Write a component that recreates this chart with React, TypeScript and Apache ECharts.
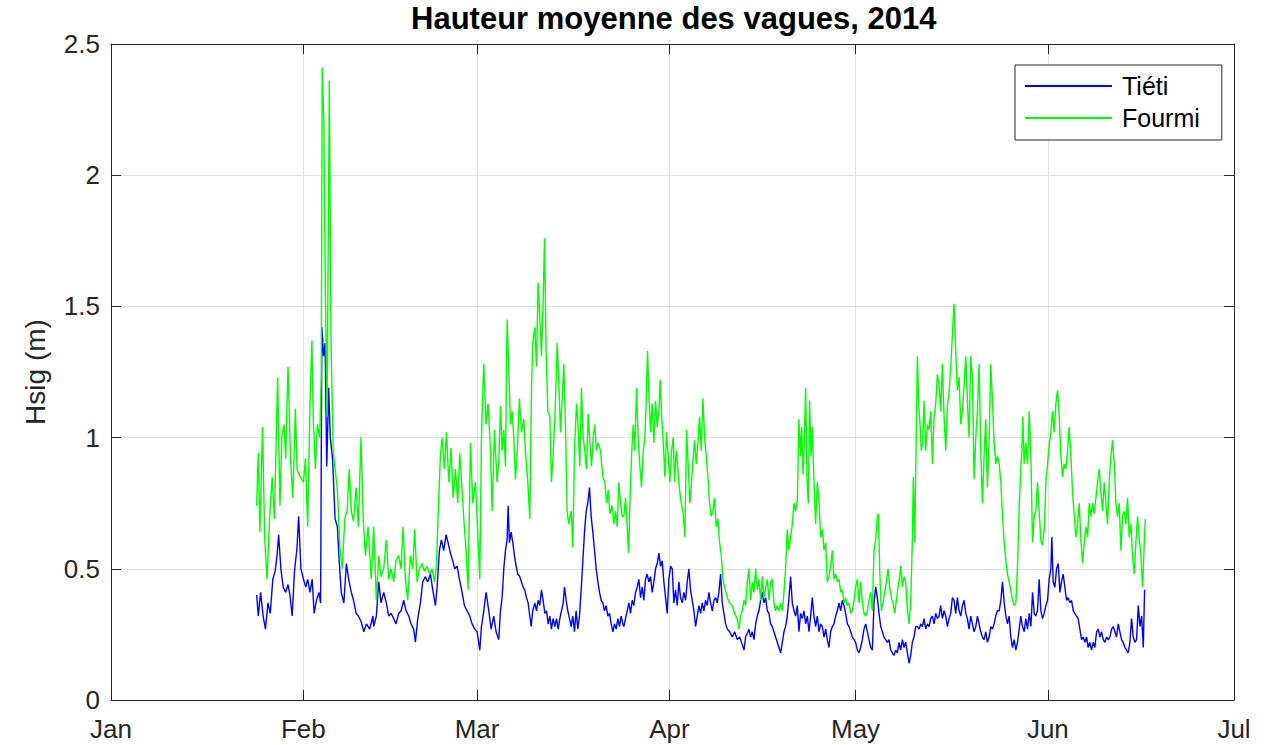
import React, { useEffect, useRef } from "react";
import * as echarts from "echarts";

const TITLE = "Hauteur moyenne des vagues, 2014";
const Y_NAME = "Hsig (m)";
const MONTH_LABELS = ["Jan", "Feb", "Mar", "Apr", "May", "Jun", "Jul"];
const YEAR = 2014;
const Y_MIN = 0;
const Y_MAX = 2.5;
const Y_STEP = 0.5;
const SERIES_NAMES = ["Tiéti", "Fourmi"];

// [days since 1 Jan 2014 00:00, significant wave height in m]
const tietiData: [number, number][] = [
  [23.48,0.40],[23.74,0.32],[24.11,0.41],[24.52,0.32],[24.89,0.27],[25.30,0.37],[25.67,0.33],[26.08,0.46],[26.45,0.49],[26.76,0.55],
  [27.02,0.63],[27.38,0.50],[27.75,0.43],[28.16,0.41],[28.53,0.44],[28.84,0.40],[29.20,0.32],[29.57,0.49],[29.98,0.58],[30.24,0.70],
  [30.61,0.50],[31.03,0.46],[31.39,0.43],[31.70,0.46],[32.07,0.41],[32.43,0.46],[32.74,0.33],[33.11,0.38],[33.52,0.41],[33.78,0.37],
  [33.99,1.42],[34.25,1.31],[34.51,1.36],[34.77,0.89],[35.08,1.19],[35.34,1.00],[35.71,0.92],[36.12,0.69],[36.49,0.66],[36.75,0.54],
  [37.11,0.41],[37.53,0.37],[37.94,0.52],[38.31,0.46],[38.73,0.41],[39.09,0.38],[39.51,0.33],[39.87,0.32],[40.29,0.30],[40.75,0.26],
  [41.17,0.29],[41.69,0.27],[42.21,0.32],
  [42.34,0.28],[42.77,0.32],[43.15,0.45],[43.52,0.37],[43.95,0.41],[44.38,0.37],[44.76,0.32],[45.14,0.33],[45.57,0.31],[45.94,0.29],
  [46.37,0.33],[46.75,0.34],[47.18,0.38],[47.56,0.34],[47.99,0.32],[48.36,0.29],[48.79,0.27],[49.06,0.22],[49.44,0.31],[49.87,0.37],
  [50.24,0.45],[50.67,0.47],[51.05,0.45],[51.48,0.48],[51.86,0.42],[52.29,0.36],[52.56,0.43],[52.93,0.57],[53.25,0.61],[53.63,0.57],
  [54.01,0.63],[54.33,0.60],[54.71,0.56],[55.08,0.53],[55.40,0.50],[55.78,0.51],[56.16,0.46],[56.59,0.41],[56.96,0.36],[57.39,0.34],
  [57.82,0.32],[58.20,0.29],[58.63,0.27],[59.01,0.26],[59.44,0.19],[59.71,0.28],[60.08,0.34],[60.46,0.41],[60.89,0.34],[61.26,0.27],
  [61.69,0.32],[62.07,0.26],
  [62.50,0.23],[62.77,0.34],[63.04,0.39],[63.31,0.50],[63.58,0.57],[63.84,0.61],[64.01,0.74],[64.22,0.60],[64.49,0.64],[64.76,0.60],
  [65.03,0.55],[65.30,0.51],[65.56,0.48],[65.89,0.47],[66.16,0.45],[66.42,0.43],[66.69,0.42],[66.96,0.39],[67.23,0.37],[67.50,0.32],
  [67.72,0.28],[67.98,0.34],[68.31,0.37],[68.58,0.34],[68.84,0.38],[69.11,0.36],[69.38,0.42],[69.65,0.38],[69.92,0.33],[70.19,0.34],
  [70.46,0.29],[70.73,0.32],[70.99,0.27],[71.26,0.31],[71.53,0.28],[71.80,0.31],[72.07,0.27],[72.34,0.31],[72.61,0.34],[72.88,0.37],
  [73.09,0.43],[73.36,0.38],[73.63,0.34],[73.90,0.31],[74.17,0.28],[74.44,0.32],[74.70,0.26],[74.97,0.34],[75.24,0.27],[75.51,0.32],
  [75.78,0.42],[76.05,0.53],[76.32,0.64],[76.59,0.72],[76.85,0.75],[77.12,0.81],[77.39,0.70],[77.66,0.64],[77.93,0.57],[78.20,0.50],
  [78.47,0.45],[78.74,0.41],[79.01,0.38],[79.27,0.37],[79.54,0.34],[79.81,0.36],[80.08,0.32],[80.35,0.33],[80.62,0.29],[80.89,0.26],
  [81.16,0.29],[81.42,0.27],[81.69,0.31],[81.96,0.28],[82.23,0.32],[82.50,0.29],
  [82.66,0.28],[82.93,0.31],[83.20,0.34],[83.47,0.37],[83.74,0.33],[84.00,0.38],[84.27,0.36],[84.54,0.41],[84.81,0.43],[85.08,0.46],
  [85.35,0.39],[85.62,0.43],[85.89,0.38],[86.15,0.46],[86.42,0.48],[86.69,0.45],[86.96,0.47],[87.23,0.41],[87.50,0.45],[87.77,0.50],
  [88.04,0.52],[88.31,0.56],[88.57,0.51],[88.84,0.53],[89.11,0.45],[89.38,0.39],[89.65,0.33],[89.92,0.46],[90.19,0.51],[90.46,0.50],
  [90.72,0.37],[90.99,0.42],[91.26,0.36],[91.53,0.45],[91.80,0.39],[92.07,0.37],[92.34,0.41],[92.61,0.38],[92.87,0.45],[93.14,0.50],
  [93.41,0.42],[93.68,0.38],[93.95,0.34],[94.22,0.28],[94.49,0.32],[94.76,0.36],[95.03,0.33],[95.29,0.37],[95.56,0.34],[95.83,0.38],
  [96.10,0.36],[96.37,0.41],[96.64,0.37],[96.91,0.34],[97.18,0.38],[97.45,0.39],[97.71,0.37],[97.98,0.41],[98.25,0.48],[98.52,0.37],
  [98.79,0.33],[99.06,0.29],[99.33,0.27],[99.70,0.26],[100.13,0.24],[100.51,0.26],[100.94,0.23],[101.32,0.24],[101.75,0.21],[102.02,0.19],
  [102.28,0.24],[102.66,0.26],
  [102.82,0.27],[103.09,0.24],[103.36,0.26],[103.63,0.23],[103.90,0.29],[104.16,0.32],[104.43,0.34],[104.70,0.38],[104.97,0.41],[105.24,0.37],
  [105.51,0.39],[105.78,0.34],[106.05,0.33],[106.31,0.29],[106.58,0.28],[106.85,0.26],[107.12,0.24],[107.39,0.22],[107.66,0.20],[107.93,0.18],
  [108.20,0.22],[108.47,0.26],[108.73,0.28],[109.00,0.32],[109.27,0.39],[109.54,0.47],[109.81,0.37],[110.08,0.34],[110.35,0.32],[110.62,0.36],
  [110.88,0.26],[111.15,0.33],[111.42,0.31],[111.69,0.34],[111.96,0.29],[112.23,0.32],[112.50,0.26],[112.77,0.32],[113.03,0.39],[113.30,0.32],
  [113.57,0.28],[113.84,0.32],[114.11,0.26],[114.38,0.29],[114.65,0.28],[114.92,0.24],[115.19,0.27],[115.45,0.23],[115.72,0.20],[115.99,0.26],
  [116.26,0.28],[116.53,0.29],[116.80,0.32],[117.07,0.34],[117.34,0.37],[117.61,0.34],[117.87,0.38],[118.14,0.36],[118.41,0.33],[118.68,0.29],
  [118.95,0.28],[119.22,0.26],[119.49,0.24],[119.76,0.23],[120.02,0.22],[120.29,0.19],[120.56,0.18],[120.83,0.20],[121.10,0.23],[121.37,0.27],
  [121.64,0.29],[121.91,0.26],[122.17,0.23],[122.44,0.20],[122.71,0.19],
  [122.98,0.37],[123.25,0.43],[123.52,0.39],[123.79,0.33],[124.06,0.28],[124.32,0.26],[124.59,0.24],[124.86,0.23],[125.13,0.22],[125.40,0.23],
  [125.67,0.19],[125.94,0.18],[126.21,0.17],[126.47,0.19],[126.74,0.18],[127.01,0.22],[127.28,0.19],[127.55,0.23],[127.82,0.20],[128.09,0.22],
  [128.36,0.18],[128.63,0.14],[128.89,0.17],[129.16,0.22],[129.43,0.24],[129.70,0.28],[129.97,0.28],[130.24,0.27],[130.51,0.29],[130.78,0.28],
  [131.04,0.31],[131.31,0.27],[131.58,0.29],[131.85,0.28],[132.12,0.31],[132.39,0.32],[132.66,0.29],[132.93,0.33],[133.19,0.31],[133.46,0.32],
  [133.73,0.36],[134.00,0.31],[134.27,0.34],[134.54,0.32],[134.81,0.28],[135.08,0.31],[135.35,0.33],[135.61,0.39],[135.88,0.38],[136.15,0.33],
  [136.42,0.39],[136.69,0.34],[136.96,0.32],[137.23,0.36],[137.50,0.38],[137.77,0.33],[138.03,0.31],[138.30,0.27],[138.57,0.32],[138.84,0.29],
  [139.11,0.26],[139.38,0.28],[139.65,0.32],[139.92,0.29],[140.18,0.26],[140.45,0.24],[140.72,0.23],[140.99,0.26],[141.26,0.22],[141.53,0.24],
  [141.80,0.28],[142.07,0.27],[142.34,0.29],[142.60,0.32],[142.87,0.34],
  [143.15,0.34],[143.42,0.38],[143.69,0.45],[143.96,0.37],[144.23,0.32],[144.49,0.29],[144.76,0.32],[145.03,0.24],[145.30,0.20],[145.57,0.23],
  [145.84,0.19],[146.11,0.22],[146.38,0.27],[146.64,0.32],[146.91,0.28],[147.18,0.26],[147.45,0.31],[147.72,0.27],[147.99,0.33],[148.26,0.28],
  [148.53,0.41],[148.80,0.33],[149.06,0.32],[149.33,0.34],[149.60,0.46],[149.87,0.34],[150.14,0.31],[150.41,0.33],[150.68,0.36],[150.95,0.38],
  [151.21,0.46],[151.48,0.50],[151.64,0.62],[151.86,0.45],[152.13,0.43],[152.40,0.50],[152.67,0.52],[152.94,0.41],[153.20,0.45],[153.47,0.48],
  [153.74,0.43],[154.01,0.38],[154.28,0.39],[154.55,0.37],[154.82,0.38],[155.09,0.34],[155.35,0.33],[155.62,0.32],[155.89,0.31],[156.16,0.27],
  [156.43,0.23],[156.70,0.24],[156.97,0.22],[157.24,0.24],[157.50,0.20],[157.77,0.22],[158.04,0.19],[158.31,0.22],[158.58,0.20],[158.85,0.26],
  [159.12,0.27],[159.39,0.24],[159.65,0.26],[159.92,0.23],[160.19,0.22],[160.46,0.24],[160.73,0.23],[161.00,0.24],[161.27,0.27],[161.54,0.28],
  [161.81,0.26],[162.07,0.24],[162.34,0.29],[162.61,0.26],[162.88,0.23],[163.15,0.22],[163.42,0.20],[163.69,0.19],[163.96,0.18],[164.22,0.22],
  [164.49,0.31],[164.76,0.24],[165.03,0.22],[165.30,0.23],[165.57,0.36],[165.84,0.28],[166.11,0.32],[166.38,0.20],[166.59,0.42]
];

const fourmiData: [number, number][] = [
  [23.48,0.74],[23.74,0.94],[24.00,0.64],[24.42,1.04],[24.78,0.61],[25.15,0.46],[25.56,0.69],[25.98,0.85],[26.34,0.69],[26.86,1.23],
  [27.23,0.74],[27.54,1.00],[27.90,1.05],[28.16,0.92],[28.53,1.27],[28.94,0.92],[29.31,0.77],[29.72,1.11],[29.98,0.88],[30.50,0.85],
  [31.03,0.83],[31.34,0.92],[31.70,0.66],[32.07,1.12],[32.38,1.37],[32.59,1.08],[32.95,0.88],[33.26,1.05],[33.63,1.00],[33.89,1.23],
  [34.04,2.41],[34.30,2.21],[34.56,1.54],[34.82,1.08],[35.19,2.36],[35.45,1.39],[35.81,0.95],[36.12,0.88],[36.49,0.80],[36.90,0.58],
  [37.27,0.50],[37.68,0.69],[38.05,0.72],[38.41,0.88],[38.73,0.72],[39.09,0.68],[39.51,0.81],[39.87,0.66],[40.29,1.00],[40.65,0.69],
  [41.01,0.55],[41.43,0.66],[41.95,0.46],
  [42.34,0.66],[42.77,0.38],[43.15,0.55],[43.52,0.47],[43.95,0.50],[44.38,0.61],[44.76,0.46],[45.14,0.50],[45.57,0.45],[45.94,0.53],
  [46.37,0.55],[46.75,0.50],[47.07,0.66],[47.45,0.46],[47.82,0.38],[48.25,0.55],[48.63,0.50],[48.95,0.65],[49.33,0.45],[49.71,0.50],
  [50.14,0.52],[50.51,0.49],[50.94,0.51],[51.37,0.48],[51.75,0.50],[52.12,0.45],[52.45,0.51],[52.72,0.70],[53.09,0.93],[53.36,1.00],
  [53.74,0.88],[54.06,1.02],[54.44,0.83],[54.81,0.96],[55.14,0.77],[55.51,0.88],[55.89,0.75],[56.21,0.94],[56.59,0.80],[56.86,0.69],
  [57.23,0.57],[57.56,0.42],[57.93,0.98],[58.31,0.75],[58.74,0.83],[59.11,0.64],[59.44,0.46],[59.71,1.00],[60.08,1.28],[60.46,1.05],
  [60.78,1.13],[61.16,0.95],[61.43,0.72],[61.80,1.03],[62.23,0.83],
  [62.50,0.91],[62.77,1.12],[63.04,0.95],[63.31,1.03],[63.58,0.89],[63.84,1.45],[64.11,1.27],[64.38,1.05],[64.65,1.10],[64.92,1.00],
  [65.19,0.84],[65.46,0.93],[65.83,1.15],[66.16,1.02],[66.53,1.07],[66.80,0.95],[67.18,0.83],[67.50,0.69],[67.77,1.18],[67.98,1.36],
  [68.31,1.42],[68.58,1.27],[68.84,1.59],[69.11,1.46],[69.38,1.31],[69.65,1.52],[69.87,1.76],[70.13,1.33],[70.40,1.10],[70.73,1.08],
  [70.99,0.83],[71.26,0.93],[71.64,1.14],[71.91,1.36],[72.18,1.21],[72.45,1.02],[72.72,1.15],[72.98,1.28],[73.25,1.04],[73.52,0.72],
  [73.79,0.67],[74.17,0.72],[74.44,0.58],[74.70,0.95],[75.03,1.13],[75.30,1.04],[75.56,0.89],[75.83,1.19],[76.10,1.00],[76.37,0.95],
  [76.64,0.88],[76.91,1.09],[77.18,0.98],[77.45,0.89],[77.72,1.00],[77.98,1.05],[78.25,0.95],[78.52,0.98],[78.90,0.95],[79.27,0.85],
  [79.60,0.83],[79.87,0.75],[80.13,0.80],[80.40,0.71],[80.78,0.74],[81.05,0.67],[81.32,0.72],[81.59,0.66],[81.85,0.83],[82.12,0.75],
  [82.39,0.70],
  [82.66,0.70],[82.93,0.77],[83.20,0.66],[83.41,0.56],[83.63,0.74],[83.90,0.93],[84.17,1.05],[84.43,0.95],[84.70,1.19],[84.97,1.00],
  [85.24,0.89],[85.51,0.81],[85.78,0.95],[86.05,1.00],[86.26,1.14],[86.48,1.33],[86.69,1.17],[86.96,1.02],[87.23,1.13],[87.50,0.98],
  [87.77,1.14],[88.04,1.04],[88.31,1.10],[88.52,1.22],[88.73,1.09],[89.00,0.99],[89.27,0.85],[89.54,1.02],[89.81,0.93],[90.08,0.83],
  [90.35,0.95],[90.62,1.00],[90.83,0.83],[91.10,0.95],[91.37,0.88],[91.64,0.80],[91.91,0.75],[92.23,0.71],[92.50,0.62],[92.77,1.03],
  [93.04,0.89],[93.31,0.75],[93.57,0.83],[93.84,0.93],[94.06,0.99],[94.33,0.90],[94.60,0.98],[94.86,1.08],[95.13,0.95],[95.40,1.15],
  [95.67,1.00],[95.94,0.93],[96.21,0.85],[96.48,0.75],[96.75,0.70],[97.02,0.72],[97.28,0.77],[97.55,0.66],[97.82,0.69],[98.09,0.60],
  [98.36,0.55],[98.63,0.46],[98.90,0.43],[99.33,0.39],[99.70,0.37],[100.13,0.36],[100.51,0.33],[100.94,0.31],[101.21,0.27],[101.48,0.32],
  [101.75,0.34],[102.02,0.38],[102.28,0.36],[102.55,0.45],
  [102.82,0.50],[103.09,0.38],[103.36,0.45],[103.63,0.41],[103.90,0.50],[104.16,0.42],[104.43,0.46],[104.70,0.38],[104.97,0.47],[105.24,0.39],
  [105.51,0.43],[105.78,0.46],[106.05,0.38],[106.31,0.45],[106.58,0.46],[106.85,0.37],[107.12,0.34],[107.39,0.36],[107.66,0.34],[107.93,0.37],
  [108.20,0.34],[108.47,0.41],[108.73,0.50],[109.00,0.65],[109.27,0.57],[109.54,0.62],[109.81,0.67],[110.08,0.75],[110.35,0.72],[110.62,0.76],
  [110.88,1.07],[111.15,0.93],[111.31,1.04],[111.53,0.86],[111.74,0.98],[111.96,1.19],[112.17,0.85],[112.39,0.75],[112.60,1.14],[112.82,0.93],
  [113.03,1.04],[113.30,0.83],[113.57,0.67],[113.84,0.83],[114.11,0.76],[114.38,0.62],[114.65,0.65],[114.92,0.57],[115.19,0.60],[115.45,0.45],
  [115.72,0.47],[115.99,0.51],[116.26,0.57],[116.53,0.46],[116.80,0.48],[117.07,0.45],[117.34,0.46],[117.61,0.41],[117.87,0.42],[118.14,0.37],
  [118.41,0.39],[118.68,0.36],[118.95,0.37],[119.22,0.33],[119.49,0.34],[119.76,0.38],[120.02,0.43],[120.29,0.46],[120.56,0.37],[120.83,0.45],
  [121.10,0.37],[121.37,0.33],[121.64,0.32],[121.91,0.34],[122.17,0.38],[122.44,0.41],[122.71,0.34],
  [122.98,0.57],[123.25,0.61],[123.52,0.70],[123.68,0.71],[123.89,0.50],[124.16,0.34],[124.43,0.37],[124.70,0.41],[124.97,0.45],[125.24,0.50],
  [125.51,0.43],[125.78,0.39],[126.04,0.37],[126.31,0.33],[126.58,0.38],[126.85,0.43],[127.12,0.47],[127.28,0.51],[127.55,0.43],[127.82,0.47],
  [128.09,0.45],[128.36,0.34],[128.63,0.29],[128.89,0.37],[129.16,0.61],[129.32,0.85],[129.54,0.60],[129.75,0.95],[129.97,1.31],[130.18,1.13],
  [130.40,1.05],[130.61,0.95],[130.83,0.98],[131.04,1.14],[131.31,0.95],[131.58,1.05],[131.85,1.03],[132.12,1.10],[132.39,0.90],[132.66,1.08],
  [132.93,1.13],[133.19,1.24],[133.46,1.20],[133.73,1.10],[134.00,1.28],[134.27,1.08],[134.54,0.95],[134.81,1.12],[135.08,1.17],[135.35,1.27],
  [135.61,1.39],[135.88,1.51],[136.15,1.33],[136.42,1.18],[136.69,1.23],[136.96,1.05],[137.23,1.10],[137.50,1.20],[137.77,1.31],[138.03,1.14],
  [138.30,1.00],[138.57,1.31],[138.84,1.23],[139.11,0.84],[139.38,1.00],[139.65,1.10],[139.92,1.28],[140.18,0.95],[140.45,0.75],[140.72,0.93],
  [140.99,1.07],[141.26,0.81],[141.53,0.98],[141.80,1.28],[142.07,1.14],[142.34,0.98],[142.60,0.90],[142.87,0.93],
  [143.15,0.90],[143.42,0.83],[143.69,0.70],[143.96,0.60],[144.23,0.53],[144.49,0.48],[144.76,0.45],[145.03,0.42],[145.30,0.38],[145.57,0.36],
  [145.84,0.37],[146.11,0.51],[146.38,0.74],[146.64,0.88],[146.81,0.95],[146.97,1.08],[147.18,0.90],[147.45,0.98],[147.72,0.90],[147.99,1.10],
  [148.26,0.93],[148.53,0.60],[148.80,0.70],[149.06,0.72],[149.33,0.83],[149.60,0.72],[149.87,0.61],[150.14,0.59],[150.41,0.65],[150.68,0.83],
  [150.95,0.90],[151.21,0.97],[151.48,1.02],[151.75,1.10],[152.02,1.02],[152.29,1.13],[152.56,1.18],[152.83,1.08],[153.10,0.93],[153.37,0.85],
  [153.63,0.90],[153.90,0.88],[154.17,0.95],[154.44,1.04],[154.71,0.93],[154.98,0.79],[155.25,0.70],[155.52,0.62],[155.78,0.67],[156.05,0.75],
  [156.32,0.61],[156.59,0.52],[156.86,0.60],[157.13,0.66],[157.40,0.62],[157.67,0.75],[157.94,0.70],[158.20,0.75],[158.47,0.71],[158.74,0.77],
  [159.01,0.83],[159.28,0.88],[159.55,0.79],[159.82,0.72],[160.08,0.83],[160.35,0.75],[160.62,0.67],[160.89,0.83],[161.16,0.93],[161.43,0.99],
  [161.70,0.90],[161.97,0.75],[162.24,0.70],[162.50,0.75],[162.77,0.57],[163.04,0.70],[163.31,0.72],[163.58,0.67],[163.85,0.77],[164.12,0.62],
  [164.39,0.67],[164.66,0.55],[164.92,0.48],[165.19,0.60],[165.46,0.70],[165.73,0.61],[166.00,0.55],[166.27,0.43],[166.54,0.60],[166.70,0.69]
];

const FONT = '"Liberation Sans", Arial, Helvetica, sans-serif';
const AXIS_COLOR = "#262626";
const GRID_COLOR = "#e2e2e2";
const TIETI_COLOR = "#0000ff";
const FOURMI_COLOR = "#00ff00";
const DAY_MS = 86400000;

export default function App() {
  const ref = useRef<HTMLDivElement>(null);

  useEffect(() => {
    document.body.style.margin = "0";
    if (!ref.current) return;
    const chart = echarts.init(ref.current, undefined, { renderer: "svg" });

    // x axis in days since 1 Jan; ticks on the first day of each month
    const t0 = Date.UTC(YEAR, 0, 1);
    const monthTicks = MONTH_LABELS.map((_, i) => Math.round((Date.UTC(YEAR, i, 1) - t0) / DAY_MS));
    const xMin = monthTicks[0];
    const xMax = monthTicks[monthTicks.length - 1];
    const fmtMonth = (v: number) => {
      const i = monthTicks.indexOf(Math.round(v));
      return i >= 0 ? MONTH_LABELS[i] : "";
    };

    const baseX = {
      type: "value",
      min: xMin,
      max: xMax,
      axisLine: { show: true, onZero: false, lineStyle: { color: AXIS_COLOR, width: 1 } },
      axisTick: { show: true, inside: true, length: 10, customValues: monthTicks, lineStyle: { color: AXIS_COLOR, width: 1 } },
    };
    const baseY = {
      type: "value",
      min: Y_MIN,
      max: Y_MAX,
      interval: Y_STEP,
      axisLine: { show: true, onZero: false, lineStyle: { color: AXIS_COLOR, width: 1 } },
      axisTick: { show: true, inside: true, length: 10, lineStyle: { color: AXIS_COLOR, width: 1 } },
    };

    const option: any = {
      animation: false,
      backgroundColor: "#ffffff",
      textStyle: { fontFamily: FONT },
      title: {
        text: TITLE,
        left: 411,
        top: 3,
        padding: 0,
        textStyle: { fontSize: 31, fontWeight: "bold", color: "#000000", fontFamily: FONT },
      },
      legend: {
        data: SERIES_NAMES,
        orient: "vertical",
        left: 1015,
        top: 65,
        padding: [7, 22, 8, 10],
        itemGap: 4,
        itemWidth: 87,
        itemHeight: 2,
        icon: "rect",
        backgroundColor: "#ffffff",
        borderColor: AXIS_COLOR,
        borderWidth: 1,
        selectedMode: false,
        textStyle: { fontSize: 25, color: "#000000", fontFamily: FONT, lineHeight: 28, padding: [0, 0, 0, 5] },
      },
      grid: { left: 111, right: 44, top: 44, bottom: 45 },
      xAxis: [
        {
          ...baseX,
          position: "bottom",
          axisLabel: {
            customValues: monthTicks,
            formatter: fmtMonth,
            fontSize: 26,
            color: AXIS_COLOR,
            fontFamily: FONT,
            margin: 16,
            showMinLabel: true,
            showMaxLabel: true,
          },
          splitLine: { show: true, lineStyle: { color: GRID_COLOR, width: 1 } },
        },
        {
          ...baseX,
          position: "top",
          axisLabel: { show: false },
          splitLine: { show: false },
        },
      ],
      yAxis: [
        {
          ...baseY,
          position: "left",
          name: Y_NAME,
          nameLocation: "middle",
          nameRotate: 90,
          nameGap: 62,
          nameTextStyle: { fontSize: 28, color: AXIS_COLOR, fontFamily: FONT },
          axisLabel: { fontSize: 26, color: AXIS_COLOR, fontFamily: FONT, margin: 11 },
          splitLine: { show: true, lineStyle: { color: GRID_COLOR, width: 1 } },
        },
        {
          ...baseY,
          position: "right",
          axisLabel: { show: false },
          splitLine: { show: false },
        },
      ],
      series: [
        {
          name: SERIES_NAMES[0],
          type: "line",
          xAxisIndex: 0,
          yAxisIndex: 0,
          data: tietiData,
          symbol: "none",
          showSymbol: false,
          lineStyle: { color: TIETI_COLOR, width: 1.4 },
          itemStyle: { color: TIETI_COLOR },
        },
        {
          name: SERIES_NAMES[1],
          type: "line",
          xAxisIndex: 0,
          yAxisIndex: 0,
          data: fourmiData,
          symbol: "none",
          showSymbol: false,
          lineStyle: { color: FOURMI_COLOR, width: 1.4 },
          itemStyle: { color: FOURMI_COLOR },
        },
      ],
    };

    chart.setOption(option);
    return () => chart.dispose();
  }, []);

  return (
    <div
      ref={ref}
      style={{ position: "absolute", left: 0, top: 0, width: 1278, height: 745, background: "#fff" }}
    />
  );
}
